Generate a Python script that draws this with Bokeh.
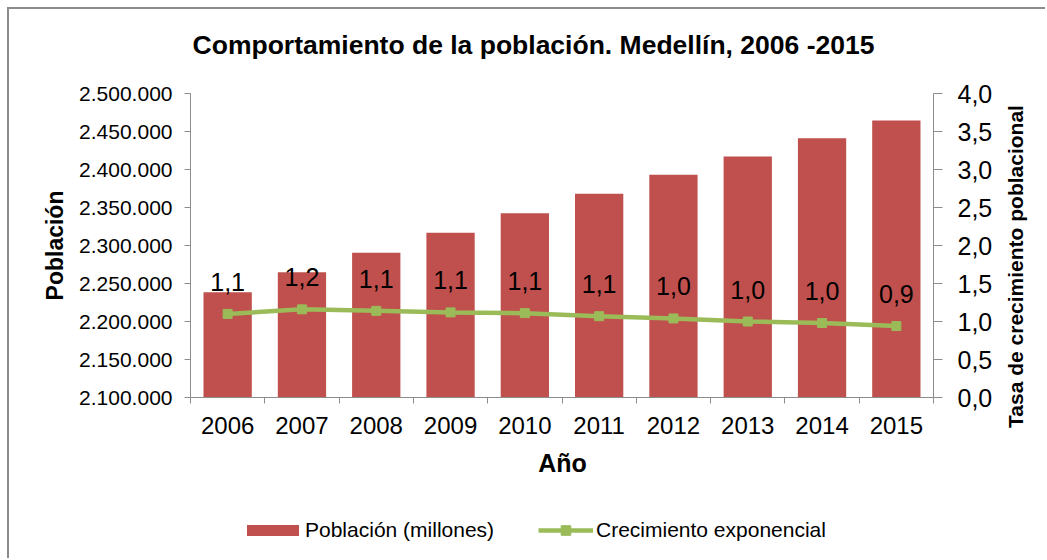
import math
from bokeh.plotting import figure
from bokeh.models import (Range1d, LinearAxis, FixedTicker, Legend, LegendItem,
                          ColumnDataSource, Label)
from bokeh.embed import file_html
from bokeh.resources import INLINE
from bokeh.core.properties import value

# ---------------- data ----------------
years = ["2006", "2007", "2008", "2009", "2010", "2011", "2012", "2013", "2014", "2015"]
population = [2238500, 2264900, 2290400, 2316700, 2342500, 2368000, 2393000, 2417100, 2441200, 2464500]
growth = [1.10, 1.16, 1.14, 1.12, 1.11, 1.07, 1.04, 1.00, 0.98, 0.94]
growth_labels = ["1,1", "1,2", "1,1", "1,1", "1,1", "1,1", "1,0", "1,0", "1,0", "0,9"]
left_ticks = [2100000, 2150000, 2200000, 2250000, 2300000, 2350000, 2400000, 2450000, 2500000]
right_ticks = [0.0, 0.5, 1.0, 1.5, 2.0, 2.5, 3.0, 3.5, 4.0]

title_text = "Comportamiento de la población. Medellín, 2006 -2015"
x_title = "Año"
y_title = "Población"
y2_title = "Tasa de crecimiento poblacional"
bar_label = "Población (millones)"
line_label = "Crecimiento exponencial"

FONT = "Liberation Sans"
RED = "#C0504D"
GREEN = "#9BBB59"
AXIS = "#8c8c8c"

# ---------------- layout (canvas pixels, from top-left) ----------------
W, H = 1038, 551
PL, PR, PT, PB = 181, 924, 84, 388      # plotting area inside the canvas

n = len(years)
xpos = [i + 0.5 for i in range(n)]
src = ColumnDataSource(dict(x=xpos, year=years, pop=population, rate=growth, lab=growth_labels))

# data ranges stretched so that the whole canvas is the frame
xu = n / (PR - PL)
x_range = Range1d(0 - PL * xu, n + (W - PR) * xu)
y0, y1 = left_ticks[0], left_ticks[-1]
yu = (y1 - y0) / (PB - PT)
y_range = Range1d(y0 - (H - PB) * yu, y1 + PT * yu)
r0, r1 = right_ticks[0], right_ticks[-1]
ru = (r1 - r0) / (PB - PT)
r_range = Range1d(r0 - (H - PB) * ru, r1 + PT * ru)

p = figure(width=W, height=H, output_backend="svg", toolbar_location=None,
           x_range=x_range, y_range=y_range, x_axis_location=None, y_axis_location=None,
           min_border=0, min_border_left=0, min_border_right=0,
           min_border_top=0, min_border_bottom=0)
p.extra_y_ranges = {"rate": r_range}
p.styles = {"margin-left": "7px", "margin-top": "7px",
            "border-top": "2px solid #8c8c8c", "border-left": "2px solid #8c8c8c"}
p.outline_line_color = None
p.xgrid.grid_line_color = None
p.ygrid.grid_line_color = None
p.background_fill_color = "white"
p.border_fill_color = "white"

# bars
bars = p.vbar(x="x", top="pop", bottom=y0, width=0.65, source=src,
              fill_color=RED, line_color=None)

# line + markers
line = p.line(x="x", y="rate", source=src, y_range_name="rate", line_color=GREEN, line_width=4.5)
marks = p.scatter(x="x", y="rate", source=src, y_range_name="rate", marker="square",
                  size=9, fill_color=GREEN, line_color=GREEN)

# data labels
p.text(x="x", y="rate", text="lab", source=src, y_range_name="rate",
       text_align="center", text_baseline="alphabetic", y_offset=-32,
       text_font=value(FONT), text_font_size="25px", text_color="black")

# x axis
xa = LinearAxis(fixed_location=y0, bounds=(0, n),
                ticker=FixedTicker(ticks=xpos, minor_ticks=list(range(n + 1))))
xa.major_label_overrides = {xv: yr for xv, yr in zip(xpos, years)}
xa.major_tick_line_color = None
xa.major_tick_out = 6
xa.major_tick_in = 0
xa.minor_tick_line_color = AXIS
xa.minor_tick_out = 6
xa.minor_tick_in = 0
xa.axis_line_color = AXIS
xa.major_label_standoff = 13
xa.major_label_text_font = FONT
xa.major_label_text_font_size = "24px"
xa.major_label_text_color = "black"
p.add_layout(xa, "below")

# left axis
ya = LinearAxis(fixed_location=0, bounds=(y0, y1), ticker=FixedTicker(ticks=left_ticks))
ya.major_label_overrides = {t: f"{t:,}".replace(",", ".") for t in left_ticks}
ya.axis_line_color = AXIS
ya.major_tick_line_color = AXIS
ya.major_tick_out = 6
ya.major_tick_in = 0
ya.minor_tick_line_color = None
ya.major_label_standoff = 12
ya.major_label_text_font = FONT
ya.major_label_text_font_size = "21px"
ya.major_label_text_color = "black"
p.add_layout(ya, "left")

# right axis
ra = LinearAxis(y_range_name="rate", fixed_location=n, bounds=(r0, r1),
                ticker=FixedTicker(ticks=right_ticks))
ra.major_label_overrides = {t: f"{t:.1f}".replace(".", ",") for t in right_ticks}
ra.axis_line_color = AXIS
ra.major_tick_line_color = AXIS
ra.major_tick_out = 9
ra.major_tick_in = 0
ra.minor_tick_line_color = None
ra.major_label_standoff = 15
ra.major_label_text_font = FONT
ra.major_label_text_font_size = "25px"
ra.major_label_text_color = "black"
p.add_layout(ra, "right")

# titles (screen units: from bottom-left of the canvas)
def add_text(txt, cx, cy, size, angle=0.0, align="center"):
    p.add_layout(Label(x=cx, y=H - cy, x_units="screen", y_units="screen", text=txt,
                       angle=angle, text_align=align, text_baseline="alphabetic",
                       text_font=FONT, text_font_size=size, text_font_style="bold",
                       text_color="black"))

add_text(title_text, 524, 35, "26.5px")
add_text(x_title, 553, 453, "25px")
add_text(y_title, 45, 236, "23px", angle=math.pi / 2)
add_text(y2_title, 1006, 257, "21px", angle=math.pi / 2)

# legends (one per entry, so each key has its own size)
common = dict(orientation="horizontal", background_fill_alpha=0, border_line_color=None,
              padding=0, margin=0, label_text_font=FONT, label_text_font_size="21px",
              label_text_color="black")
leg_bar = Legend(items=[LegendItem(label=bar_label, renderers=[bars])],
                 location=(231, 18), glyph_width=65, glyph_height=14, label_standoff=0,
                 **common)
leg_line = Legend(items=[LegendItem(label=line_label, renderers=[line, marks])],
                  location=(529, 18), glyph_width=55, glyph_height=24, label_standoff=3,
                  **common)
p.add_layout(leg_bar)
p.add_layout(leg_line)

open("out.html", "w").write(file_html(p, INLINE))
